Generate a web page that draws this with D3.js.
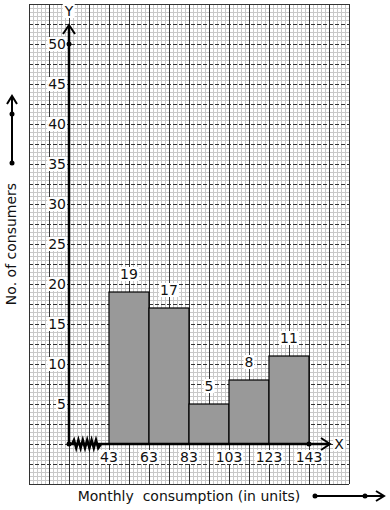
<!DOCTYPE html>
<html lang="en">
<head>
  <meta charset="UTF-8">
  <title>Histogram</title>
  <script src="https://d3js.org/d3.v7.min.js"></script>
  <style>
    body { margin: 0; background: #fff; }
    text { font-family: "DejaVu Sans", sans-serif; fill: #111; }
  </style>
</head>
<body>
  <svg id="chart" width="390" height="510"></svg>
  <script>
    // class boundaries and frequencies
    const classEdges = [43, 63, 83, 103, 123, 143];
    const consumers = [19, 17, 5, 8, 11];
    const yTicks = [5, 10, 15, 20, 25, 30, 35, 40, 45, 50];

    const svg = d3.select("#chart");

    // graph paper
    const gx0 = 29, gx1 = 349, gy0 = 4, gy1 = 484;
    const paper = svg.append("g");
    d3.range(gx0, gx1 + 1, 4).forEach(x => {
      if ((x - gx0) % 20 === 0) return;
      paper.append("line").attr("x1", x).attr("x2", x).attr("y1", gy0).attr("y2", gy1)
        .attr("stroke", "#c8c8c8").attr("stroke-width", 1).attr("shape-rendering", "crispEdges");
    });
    d3.range(gy0, gy1 + 1, 4).forEach(y => {
      if ((y - gy0) % 20 === 0) return;
      paper.append("line").attr("x1", gx0).attr("x2", gx1).attr("y1", y).attr("y2", y)
        .attr("stroke", "#c8c8c8").attr("stroke-width", 1).attr("shape-rendering", "crispEdges");
    });
    d3.range(gy0, gy1 + 1, 20).forEach(y => {
      paper.append("line").attr("x1", gx0).attr("x2", gx1).attr("y1", y).attr("y2", y)
        .attr("stroke", "#333").attr("stroke-width", 1)
        .attr("stroke-dasharray", (y === gy0 || y === gy1) ? null : "4,2")
        .attr("shape-rendering", "crispEdges");
    });
    d3.range(gx0, gx1 + 1, 20).forEach(x => {
      paper.append("line").attr("x1", x).attr("x2", x).attr("y1", gy0).attr("y2", gy1)
        .attr("stroke", "#333").attr("stroke-width", 1).attr("shape-rendering", "crispEdges");
    });

    const x = d3.scaleLinear().domain([43, 143]).range([109, 309]);
    const y = d3.scaleLinear().domain([0, 50]).range([444, 44]);
    const ox = x(23), oy = y(0);

    // bars
    const bars = consumers.map((v, i) => ({ a: classEdges[i], b: classEdges[i + 1], v }));
    svg.append("g").selectAll("rect").data(bars).join("rect")
      .attr("x", d => x(d.a)).attr("width", d => x(d.b) - x(d.a))
      .attr("y", d => y(d.v)).attr("height", d => y(0) - y(d.v))
      .attr("fill", "#999").attr("stroke", "#000").attr("stroke-width", 1.2);

    // label with white box behind it
    function boxedText(g, tx, ty, str, anchor) {
      const t = g.append("text").attr("x", tx).attr("y", ty)
        .attr("text-anchor", anchor || "middle").attr("dominant-baseline", "central")
        .attr("font-size", 14).text(str);
      const bb = t.node().getBBox();
      g.insert("rect", () => t.node())
        .attr("x", bb.x - 1).attr("y", bb.y + 1).attr("width", bb.width + 2).attr("height", bb.height - 2)
        .attr("fill", "#fff");
    }

    const labels = svg.append("g");
    bars.forEach(d => boxedText(labels, (x(d.a) + x(d.b)) / 2, y(d.v) - 18, d.v));
    yTicks.forEach(v => boxedText(labels, ox - 3, y(v), v, "end"));
    classEdges.forEach(v => boxedText(labels, x(v), oy + 13, v));

    // Y / X letters
    boxedText(labels, ox, 11, "Y");
    boxedText(labels, 339, oy, "X");

    // axes
    const ax = svg.append("g").attr("stroke", "#000").attr("fill", "none");
    ax.append("line").attr("x1", ox).attr("x2", ox).attr("y1", oy).attr("y2", 26).attr("stroke-width", 2.5);
    ax.append("path").attr("d", `M${ox - 6},${34} L${ox},${25} L${ox + 6},${34}`).attr("stroke-width", 2);
    ax.append("line").attr("x1", ox).attr("x2", 329).attr("y1", oy).attr("y2", oy).attr("stroke-width", 2.5);
    ax.append("path").attr("d", `M${321},${oy - 6} L${330},${oy} L${321},${oy + 6}`).attr("stroke-width", 2);

    // axis break (zigzag)
    let zz = `M${ox + 3},${oy}`;
    for (let i = 0; i < 6; i++) {
      const bx = ox + 5 + i * 4.4;
      zz += ` L${bx},${oy - 4} L${bx + 2.2},${oy + 4}`;
    }
    zz += ` L${ox + 32},${oy}`;
    ax.append("path").attr("d", zz).attr("stroke-width", 2.5);

    const dots = [[ox, oy], [ox, y(50)], [x(143), oy]];
    svg.append("g").selectAll("circle").data(dots).join("circle")
      .attr("cx", d => d[0]).attr("cy", d => d[1]).attr("r", 2.5).attr("fill", "#000");

    // side arrows
    const side = svg.append("g").attr("stroke", "#000").attr("fill", "none").attr("stroke-width", 2);
    side.append("line").attr("x1", 12).attr("x2", 12).attr("y1", 163).attr("y2", 97);
    side.append("path").attr("d", "M7,104 L12,96 L17,104");
    side.append("line").attr("x1", 315).attr("x2", 383).attr("y1", 496).attr("y2", 496);
    side.append("path").attr("d", "M376,491 L384,496 L376,501");
    svg.append("g").selectAll("circle").data([[12, 163], [12, 114], [315, 496], [365, 496]]).join("circle")
      .attr("cx", d => d[0]).attr("cy", d => d[1]).attr("r", 2.5).attr("fill", "#000");

    // axis titles
    svg.append("text").attr("transform", "translate(16,244) rotate(-90)")
      .attr("text-anchor", "middle").attr("font-size", 14).text("No. of consumers");
    svg.append("text").attr("x", 189).attr("y", 501).attr("text-anchor", "middle")
      .attr("font-size", 14).style("white-space", "pre").text("Monthly  consumption (in units)");
  </script>
</body>
</html>
